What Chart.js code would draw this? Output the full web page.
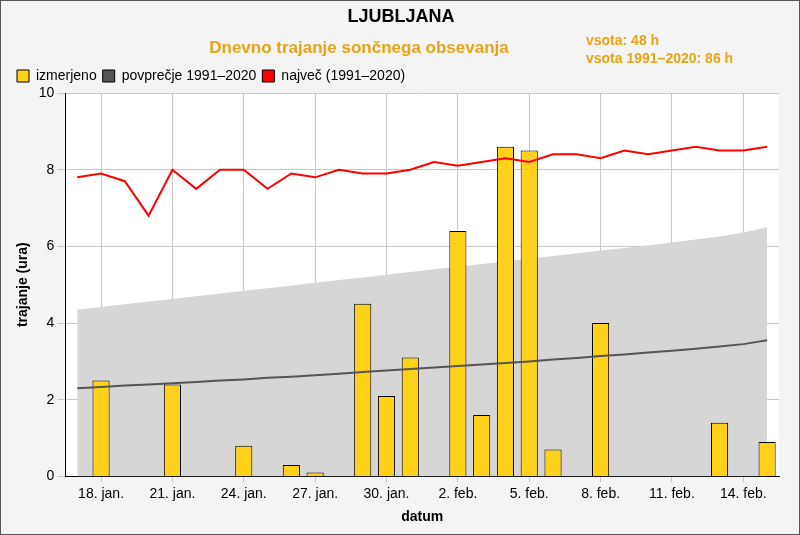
<!DOCTYPE html>
<html>
<head>
<meta charset="utf-8">
<script src="https://cdn.jsdelivr.net/npm/chart.js@4/dist/chart.umd.min.js"></script>
<style>
  body { margin: 0; background: #fff; }
  #wrap { width: 798px; height: 533px; border: 1px solid #555; background: #f4f4f4; position: relative; }
</style>
</head>
<body>
<div id="wrap"><canvas id="chart" width="798" height="533"></canvas></div>
<script>
const dates = ['17. jan.', '18. jan.', '19. jan.', '20. jan.', '21. jan.', '22. jan.', '23. jan.', '24. jan.', '25. jan.', '26. jan.',
    '27. jan.', '28. jan.', '29. jan.', '30. jan.', '31. jan.', '1. feb.', '2. feb.', '3. feb.', '4. feb.', '5. feb.',
    '6. feb.', '7. feb.', '8. feb.', '9. feb.', '10. feb.', '11. feb.', '12. feb.', '13. feb.', '14. feb.', '15. feb.'];
const measured = [0, 2.5, 0, 0, 2.4, 0, 0, 0.8, 0, 0.3, 0.1, 0, 4.5, 2.1, 3.1, 0, 6.4, 1.6, 8.6, 8.5, 0.7, 0, 4.0, 0, 0, 0, 0, 1.4, 0, 0.9];
const average = [2.30, 2.33, 2.37, 2.40, 2.43, 2.46, 2.50, 2.53, 2.57, 2.60, 2.64, 2.68, 2.72, 2.76, 2.80,
    2.84, 2.88, 2.92, 2.96, 3.00, 3.05, 3.09, 3.14, 3.18, 3.23, 3.28, 3.33, 3.39, 3.45, 3.55];
const bandUpper = [4.35, 4.42, 4.49, 4.56, 4.63, 4.70, 4.77, 4.84, 4.91, 4.98, 5.05, 5.12, 5.19, 5.26, 5.33,
    5.40, 5.47, 5.54, 5.61, 5.68, 5.75, 5.82, 5.89, 5.96, 6.03, 6.10, 6.18, 6.26, 6.36, 6.50];
const maximum = [7.8, 7.9, 7.7, 6.8, 8.0, 7.5, 8.0, 8.0, 7.5, 7.9, 7.8, 8.0, 7.9, 7.9, 8.0,
    8.2, 8.1, 8.2, 8.3, 8.2, 8.4, 8.4, 8.3, 8.5, 8.4, 8.5, 8.6, 8.5, 8.5, 8.6];
const yTicks = [0, 2, 4, 6, 8, 10];

const orange = '#e8a317';
const font = 'Arial, "Liberation Sans", sans-serif';

const titles = {
    id: 'titles',
    afterDraw(chart) {
        const c = chart.ctx;
        c.save();
        c.textAlign = 'center';
        c.textBaseline = 'middle';
        c.fillStyle = '#000';
        c.font = `bold 18px ${font}`;
        c.fillText('LJUBLJANA', 400, 16);
        c.fillStyle = orange;
        c.font = `bold 17px ${font}`;
        c.fillText('Dnevno trajanje sončnega obsevanja', 358, 47);
        c.textAlign = 'left';
        c.font = `bold 14px ${font}`;
        c.fillText('vsota: 48 h', 585, 40);
        c.fillText('vsota 1991–2020: 86 h', 585, 58);
        c.restore();
    }
};

new Chart(document.getElementById('chart'), {
    data: {
        labels: dates,
        datasets: [
            { type: 'line', label: 'največ (1991–2020)', data: maximum, borderColor: '#ff0000', backgroundColor: '#ff0000',
              borderWidth: 2, pointRadius: 0, tension: 0, order: 1 },
            { type: 'line', label: 'povprečje 1991–2020', data: average, borderColor: '#555', backgroundColor: '#555',
              borderWidth: 2, pointRadius: 0, tension: 0, order: 2 },
            { type: 'bar', label: 'izmerjeno', data: measured, backgroundColor: '#ffd11a', borderColor: '#000',
              borderWidth: 1, barPercentage: 0.72, categoryPercentage: 1, order: 3 },
            { type: 'line', label: 'band', data: bandUpper, borderWidth: 0, pointRadius: 0, fill: 'origin',
              backgroundColor: '#d6d6d6', order: 4 }
        ]
    },
    options: {
        responsive: false,
        animation: false,
        layout: { padding: { top: 62, right: 20, left: 10, bottom: 4 } },
        plugins: {
            legend: {
                position: 'top', align: 'start', reverse: true,
                labels: {
                    filter: item => item.text !== 'band',
                    boxWidth: 12, boxHeight: 12, color: '#000', font: { family: font, size: 14 }, padding: 6,
                    generateLabels: chart => Chart.defaults.plugins.legend.labels.generateLabels(chart).map(l => ({ ...l, strokeStyle: '#000', lineWidth: 1 }))
                }
            },
            tooltip: { enabled: false }
        },
        scales: {
            x: {
                offset: true,
                grid: { offset: false, color: ctx => ctx.index % 3 === 1 ? '#c8c8c8' : 'transparent', tickLength: 6 },
                border: { color: '#000' },
                ticks: { autoSkip: false, maxRotation: 0, color: '#000', font: { family: font, size: 14 },
                    callback: (v, i) => i % 3 === 1 ? dates[i] : '' },
                title: { display: true, text: 'datum', color: '#000', font: { family: font, size: 14, weight: 'bold' } }
            },
            y: {
                min: 0, max: 10,
                afterBuildTicks: axis => { axis.ticks = yTicks.map(v => ({ value: v })); },
                grid: { color: '#c8c8c8' },
                border: { color: '#000' },
                ticks: { color: '#000', font: { family: font, size: 14 } },
                title: { display: true, text: 'trajanje (ura)', color: '#000', font: { family: font, size: 14, weight: 'bold' } }
            }
        }
    },
    plugins: [titles, {
        id: 'plotBg',
        beforeDraw(chart) {
            const { ctx, chartArea: a } = chart;
            ctx.save();
            ctx.fillStyle = '#fff';
            ctx.fillRect(a.left, a.top, a.right - a.left, a.bottom - a.top);
            ctx.restore();
        }
    }]
});
</script>
</body>
</html>
